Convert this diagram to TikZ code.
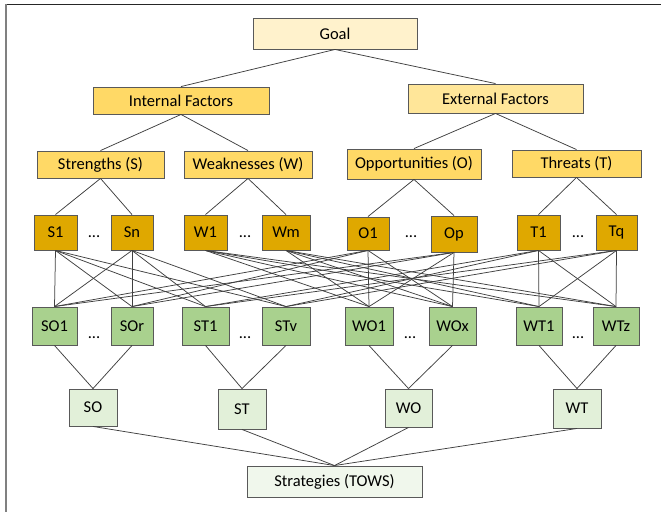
\documentclass[tikz,border=0pt]{standalone}
\usepackage{fontspec}
\setmainfont{Carlito}
\definecolor{goalc}{HTML}{FFF2CC}
\definecolor{intc}{HTML}{FFD966}
\definecolor{extc}{HTML}{FFE699}
\definecolor{itemc}{HTML}{DFA800}
\definecolor{grnc}{HTML}{A9D18E}
\definecolor{lgrnc}{HTML}{E2F0D9}
\definecolor{stratc}{HTML}{F0F7EC}
\definecolor{edgec}{HTML}{595959}
\tikzset{
  box/.style={draw=edgec, line width=0.9pt, inner sep=0pt, font=\fontsize{16.5}{18}\selectfont},
  conn/.style={draw=black!75, line width=0.75pt},
  dotsn/.style={inner sep=0pt, anchor=base, font=\fontsize{16.5}{18}\selectfont},
}
\begin{document}
\begin{tikzpicture}[x=1pt,y=-1pt]
\useasboundingbox (0,0) rectangle (661,512);
\fill[white] (0,0) rectangle (661,512);
\draw[black!85, line width=1.4pt] (5,4.5) -- (661,4.5);
\draw[black!50, line width=2pt] (5.5,4) -- (5.5,512);
% level 1-3
\node[box, fill=goalc, minimum width=164, minimum height=31] (goal) at (335,33.5) {Goal};
\node[box, fill=intc, minimum width=176, minimum height=27] (int) at (181,100.5) {Internal Factors};
\node[box, fill=extc, minimum width=175, minimum height=29] (ext) at (495.5,98.5) {External Factors};
\node[box, fill=intc, minimum width=127, minimum height=27] (S) at (100.5,164.5) {Strengths (S)};
\node[box, fill=intc, minimum width=128, minimum height=27] (W) at (248,164.5) {Weaknesses (W)};
\node[box, fill=intc, minimum width=134, minimum height=30] (O) at (414,164) {Opportunities (O)};
\node[box, fill=intc, minimum width=129, minimum height=27] (T) at (576.5,163.5) {Threats (T)};
% level 4
\node[box, fill=itemc, minimum width=43, minimum height=35] (S1) at (55.5,232.5) {S1};
\node[box, fill=itemc, minimum width=42, minimum height=35] (Sn) at (132,232.5) {Sn};
\node[box, fill=itemc, minimum width=43, minimum height=35] (W1) at (205.5,232.5) {W1};
\node[box, fill=itemc, minimum width=48, minimum height=35] (Wm) at (286,232.5) {Wm};
\node[box, fill=itemc, minimum width=42, minimum height=33] (O1) at (368,233.5) {O1};
\node[box, fill=itemc, minimum width=46, minimum height=36] (Op) at (454,234) {Op};
\node[box, fill=itemc, minimum width=43, minimum height=35] (T1) at (538.5,232.5) {T1};
\node[box, fill=itemc, minimum width=41, minimum height=35] (Tq) at (616.5,232.5) {Tq};
\node[dotsn] (d1) at (94,237) {...};
\node[dotsn] (d2) at (245,237) {...};
\node[dotsn] (d3) at (411,237) {...};
\node[dotsn] (d4) at (578,237) {...};
% level 5
\node[box, fill=grnc, minimum width=45, minimum height=38] (SO1) at (54.5,326) {SO1};
\node[box, fill=grnc, minimum width=42, minimum height=38] (SOr) at (132,326) {SOr};
\node[box, fill=grnc, minimum width=47, minimum height=38] (ST1) at (205.5,326) {ST1};
\node[box, fill=grnc, minimum width=48, minimum height=38] (STv) at (286,326) {STv};
\node[box, fill=grnc, minimum width=48, minimum height=38] (WO1) at (369,326) {WO1};
\node[box, fill=grnc, minimum width=47, minimum height=38] (WOx) at (452.5,326) {WOx};
\node[box, fill=grnc, minimum width=46, minimum height=38] (WT1) at (539,326) {WT1};
\node[box, fill=grnc, minimum width=46, minimum height=38] (WTz) at (616,326) {WTz};
\node[dotsn] (e1) at (94,338) {...};
\node[dotsn] (e2) at (245,338) {...};
\node[dotsn] (e3) at (410,338) {...};
\node[dotsn] (e4) at (578,338) {...};
% level 6
\node[box, fill=lgrnc, minimum width=48, minimum height=37] (SO) at (93,407.5) {SO};
\node[box, fill=lgrnc, minimum width=48, minimum height=40] (ST) at (242,409) {ST};
\node[box, fill=lgrnc, minimum width=47, minimum height=38] (WO) at (408.5,408) {WO};
\node[box, fill=lgrnc, minimum width=48, minimum height=39] (WT) at (577,408.5) {WT};
\node[box, fill=stratc, minimum width=175, minimum height=31] (strat) at (334.5,481.5) {Strategies (TOWS)};
% connectors
\draw[conn] (goal.south) -- (int.north);
\draw[conn] (goal.south) -- (ext.north);
\draw[conn] (int.south) -- (S.north);
\draw[conn] (int.south) -- (W.north);
\draw[conn] (ext.south) -- (O.north);
\draw[conn] (ext.south) -- (T.north);
\draw[conn] (S.south) -- (S1.north);
\draw[conn] (S.south) -- (Sn.north);
\draw[conn] (W.south) -- (W1.north);
\draw[conn] (W.south) -- (Wm.north);
\draw[conn] (O.south) -- (O1.north);
\draw[conn] (O.south) -- (Op.north);
\draw[conn] (T.south) -- (T1.north);
\draw[conn] (T.south) -- (Tq.north);
\foreach \a in {S1,Sn}{\foreach \b in {SO1,SOr,ST1,STv}{\draw[conn] (\a.south) -- (\b.north);}}
\foreach \a in {W1,Wm}{\foreach \b in {WO1,WOx,WT1,WTz}{\draw[conn] (\a.south) -- (\b.north);}}
\foreach \a in {O1,Op}{\foreach \b in {SO1,SOr,WO1,WOx}{\draw[conn] (\a.south) -- (\b.north);}}
\foreach \a in {T1,Tq}{\foreach \b in {ST1,STv,WT1,WTz}{\draw[conn] (\a.south) -- (\b.north);}}
\draw[conn] (SO1.south) -- (SO.north);
\draw[conn] (SOr.south) -- (SO.north);
\draw[conn] (ST1.south) -- (ST.north);
\draw[conn] (STv.south) -- (ST.north);
\draw[conn] (WO1.south) -- (WO.north);
\draw[conn] (WOx.south) -- (WO.north);
\draw[conn] (WT1.south) -- (WT.north);
\draw[conn] (WTz.south) -- (WT.north);
\draw[conn] (SO.south) -- (strat.north);
\draw[conn] (ST.south) -- (strat.north);
\draw[conn] (WO.south) -- (strat.north);
\draw[conn] (WT.south) -- (strat.north);
\end{tikzpicture}
\end{document}
